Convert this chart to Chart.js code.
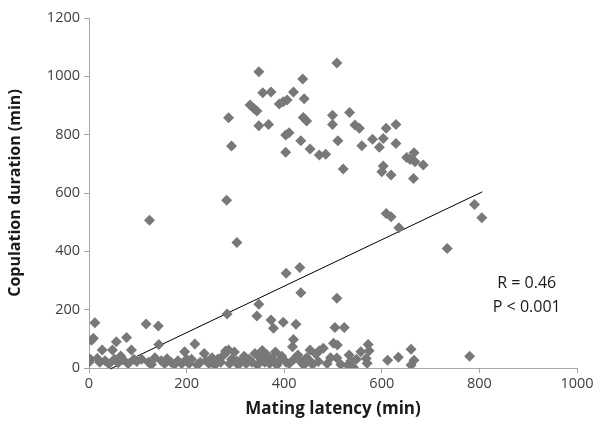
<!DOCTYPE html>
<html>
<head>
<meta charset="utf-8">
<script src="https://cdn.jsdelivr.net/npm/chart.js@4"></script>
<style>
  html, body { margin: 0; padding: 0; background: #fff; }
  #wrap { width: 596px; height: 421px; }
</style>
</head>
<body>
<div id="wrap"><canvas id="scatterChart" width="596" height="421"></canvas></div>
<script>
// mating latency (min) and copulation duration (min)
const matingLatency = [
  // upper cluster
  508, 348, 356, 373, 438, 419, 441, 330, 338, 344, 390, 398, 406, 286, 348, 368, 439, 446, 499, 499,
  292, 403, 410, 403, 434, 453, 472, 485, 510, 534, 545, 554, 609, 629, 559, 581, 603, 595, 629, 651,
  658, 666, 668, 685, 521, 603, 600, 619, 665,
  // middle
  282, 124, 303, 404, 432, 609, 619, 635, 790, 805, 734, 434, 508,
  // bottom
  0, 3, 5, 9, 12, 17, 22, 27, 33, 41, 48, 52, 56, 60, 65, 70, 77, 80, 87, 92, 98,
  108, 117, 122, 128, 135, 142, 143, 148, 155, 160, 168, 175, 182, 190, 196, 200,
  205, 210, 217, 222, 228, 236, 240, 246, 252, 258, 264, 270, 276, 280, 283, 286, 288, 292, 298, 303,
  306, 312, 318, 322, 328, 334, 340, 344, 345, 348, 350, 355, 360, 365, 370, 373, 376, 378, 382, 385,
  390, 395, 398, 404, 410, 417, 419, 420, 424, 428,
  435, 440, 446, 453, 453, 458, 465, 470, 472, 480, 488, 495, 501, 504, 509, 508, 516, 523, 530, 533,
  537, 542, 548, 557, 568, 570, 572, 574, 612, 634, 660, 666, 660, 780
];
const copulationDuration = [
  1046, 1016, 944, 946, 991, 946, 923, 902, 890, 881, 905, 913, 919, 858, 831, 835, 859, 847, 867, 835,
  761, 799, 807, 740, 779, 751, 730, 733, 779, 876, 833, 822, 822, 835, 762, 784, 787, 757, 770, 722,
  715, 738, 707, 696, 682, 693, 673, 662, 650,
  575, 507, 430, 325, 345, 530, 519, 481, 561, 515, 410, 258, 239,
  20, 30, 95, 102, 155, 33, 20, 62, 25, 14, 62, 30, 90, 18, 41, 28, 105, 15, 62, 30, 22,
  30, 151, 20, 12, 35, 144, 81, 25, 15, 32, 20, 12, 25, 15, 56, 30,
  15, 30, 82, 10, 20, 50, 25, 15, 35, 10, 30, 20, 45, 58, 185, 62, 15, 30, 55, 24,
  10, 25, 40, 15, 30, 20, 50, 178, 10, 219, 35, 60, 20, 45, 15, 165, 30, 136, 55, 10,
  25, 40, 157, 20, 15, 73, 98, 30, 150, 45,
  20, 10, 35, 62, 24, 12, 48, 22, 59, 68, 15, 35, 85, 139, 79, 34, 12, 139, 10, 45,
  25, 2, 30, 56, 33, 16, 81, 59, 27, 37, 64, 27, 10, 40
];

// regression line end points
const trendLatency = [44, 806];
const trendDuration = [-3, 604];

const xTicks = [0, 200, 400, 600, 800, 1000];
const yTicks = [0, 200, 400, 600, 800, 1000, 1200];

const statsText = ['R = 0.46', 'P < 0.001'];

const points = matingLatency.map((x, i) => ({ x: x, y: copulationDuration[i] }));
const trend = trendLatency.map((x, i) => ({ x: x, y: trendDuration[i] }));

const fontFamily = '"Open Sans", Lato, sans-serif';
const axisGray = '#a6a6a6';

// writes the R / P values next to the line
const statsLabel = {
  id: 'statsLabel',
  afterDatasetsDraw(chart) {
    const ctx = chart.ctx;
    const xs = chart.scales.x;
    const ys = chart.scales.y;
    ctx.save();
    ctx.font = '16px ' + fontFamily;
    ctx.fillStyle = '#1a1a1a';
    ctx.textAlign = 'center';
    ctx.textBaseline = 'middle';
    ctx.fillText(statsText[0], xs.getPixelForValue(897), ys.getPixelForValue(291));
    ctx.fillText(statsText[1], xs.getPixelForValue(897), ys.getPixelForValue(209));
    ctx.restore();
  }
};

const ctx = document.getElementById('scatterChart').getContext('2d');

new Chart(ctx, {
  type: 'scatter',
  data: {
    datasets: [
      {
        label: 'Copulation duration',
        data: points,
        pointStyle: 'rectRot',
        pointRadius: 5.5,
        pointBackgroundColor: '#787878',
        pointBorderColor: '#787878',
        pointBorderWidth: 0
      },
      {
        type: 'line',
        label: 'Trend',
        data: trend,
        borderColor: '#000',
        borderWidth: 1,
        pointRadius: 0,
        fill: false,
        clip: 4
      }
    ]
  },
  options: {
    responsive: false,
    animation: false,
    layout: { padding: { top: 18, right: 19, left: 0, bottom: 0 } },
    plugins: {
      legend: { display: false },
      tooltip: { enabled: false }
    },
    scales: {
      x: {
        type: 'linear',
        min: 0,
        max: 1000,
        afterBuildTicks: (scale) => { scale.ticks = xTicks.map(v => ({ value: v })); },
        afterFit: (scale) => { scale.height = 53; },
        border: { color: axisGray, width: 1 },
        grid: { drawOnChartArea: false, drawTicks: true, tickLength: 5, color: axisGray },
        ticks: {
          color: '#404040',
          padding: 2,
          font: { family: fontFamily, size: 14.5 },
          callback: (v) => String(v)
        },
        title: {
          display: true,
          text: 'Mating latency (min)',
          color: '#1a1a1a',
          padding: { top: 2, bottom: 2 },
          font: { family: fontFamily, size: 17, weight: 'bold' }
        }
      },
      y: {
        type: 'linear',
        min: 0,
        max: 1200,
        afterBuildTicks: (scale) => { scale.ticks = yTicks.map(v => ({ value: v })); },
        afterFit: (scale) => { scale.width = 89; },
        border: { color: axisGray, width: 1 },
        grid: { drawOnChartArea: false, drawTicks: true, tickLength: 5, color: axisGray },
        ticks: {
          color: '#404040',
          padding: 4,
          font: { family: fontFamily, size: 14.5 },
          callback: (v) => String(v)
        },
        title: {
          display: true,
          text: 'Copulation duration (min)',
          color: '#1a1a1a',
          padding: { top: 6, bottom: 6 },
          font: { family: fontFamily, size: 16, weight: 'bold' }
        }
      }
    }
  },
  plugins: [statsLabel]
});
</script>
</body>
</html>
